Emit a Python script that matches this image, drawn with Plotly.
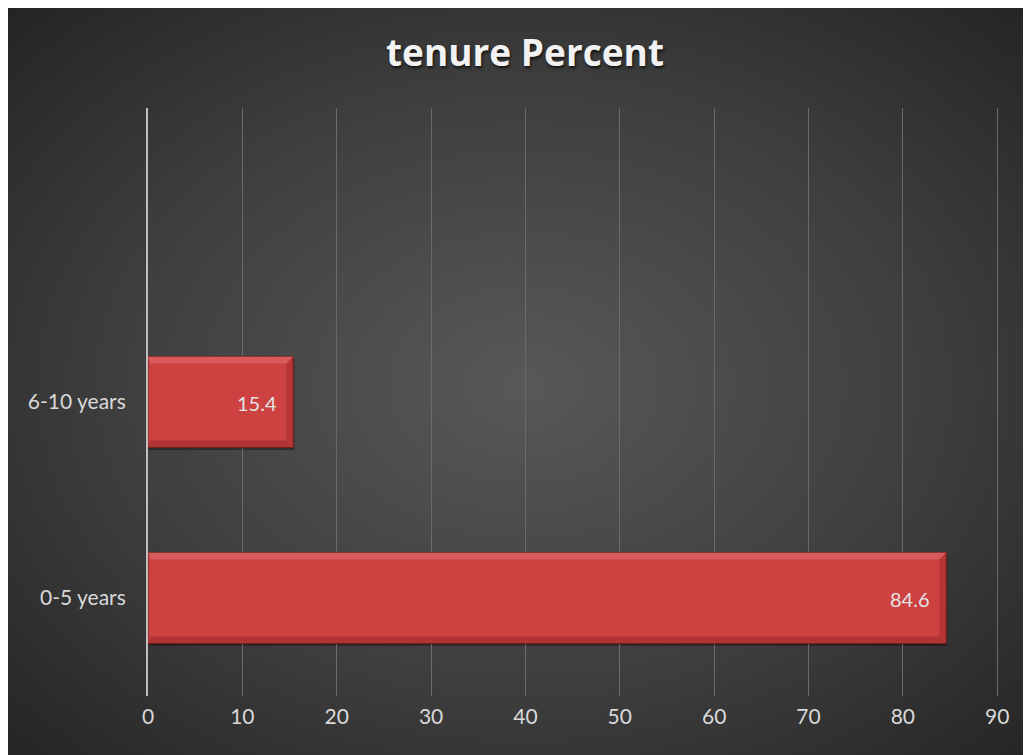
import base64
import plotly.graph_objects as go

categories = ["0-5 years", "6-10 years"]
values = [84.6, 15.4]
tick_vals = [0, 10, 20, 30, 40, 50, 60, 70, 80, 90]

W, H = 1031, 755
ML, MR, MT, MB = 140, 38, 100, 67
PW, PH = W - ML - MR, H - MT - MB
FONT = "Lato, Open Sans, sans-serif"

svg = """<svg xmlns='http://www.w3.org/2000/svg' width='1031' height='755' preserveAspectRatio='none'>
<defs><radialGradient id='g' cx='0.5' cy='0.5' r='0.72' fx='0.5' fy='0.5'>
<stop offset='0' stop-color='#585858'/><stop offset='0.55' stop-color='#3e3e3e'/><stop offset='1' stop-color='#232323'/>
</radialGradient></defs><rect width='1031' height='755' fill='url(#g)'/></svg>"""
bg_uri = "data:image/svg+xml;base64," + base64.b64encode(svg.encode()).decode()

fig = go.Figure()
fig.add_trace(go.Bar(
    y=[0, 1], x=values, orientation="h", width=0.465,
    marker=dict(color="#cd4141", line=dict(color="#7a2222", width=1)),
    textposition="none", hoverinfo="skip", showlegend=False,
))

# bevel shapes derived from data
half = 0.465 / 2
bx = 7 / (PW / 90.0)
by = 7 / (PH / 3.0)
shapes = []
for i, v in enumerate(values):
    y0, y1 = i - half, i + half
    shapes.append(dict(type="rect", xref="x", yref="y", x0=0.05, x1=v + 0.12, y0=y0 - 0.012, y1=y1 - 0.012,
                       fillcolor="rgba(0,0,0,0.35)", line=dict(width=0), layer="below"))
    shapes.append(dict(type="path", xref="x", yref="y",
                       path=f"M 0 {y1} L {v} {y1} L {v - bx} {y1 - by} L {bx * 0.3} {y1 - by} Z",
                       fillcolor="rgba(255,170,170,0.24)", line=dict(width=0)))
    shapes.append(dict(type="path", xref="x", yref="y",
                       path=f"M 0 {y0} L {v} {y0} L {v - bx} {y0 + by} L {bx * 0.3} {y0 + by} Z",
                       fillcolor="rgba(60,0,0,0.2)", line=dict(width=0)))
    shapes.append(dict(type="path", xref="x", yref="y",
                       path=f"M {v} {y0} L {v} {y1} L {v - bx} {y1 - by} L {v - bx} {y0 + by} Z",
                       fillcolor="rgba(60,0,0,0.16)", line=dict(width=0)))

annotations = [dict(x=v, y=i, xref="x", yref="y", text=f"{v}", showarrow=False,
                    xanchor="right", xshift=-14, yshift=-1,
                    font=dict(family=FONT, size=20, color="#e4e4e4"))
               for i, v in enumerate(values)]

fig.update_layout(
    width=W, height=H, autosize=False,
    margin=dict(l=ML, r=MR, t=MT, b=MB),
    paper_bgcolor="#2a2a2a", plot_bgcolor="rgba(0,0,0,0)",
    title=dict(text="<b>tenure Percent</b>", x=517 / W, xanchor="center", xref="container",
               y=1 - 45 / H, yanchor="middle", yref="container",
               font=dict(family="Open Sans, sans-serif", size=37, color="#f2f2f2",
                         shadow="1px 2px 3px rgba(0,0,0,0.7)")),
    images=[dict(source=bg_uri, xref="paper", yref="paper",
                 x=-ML / PW, y=(H - MB) / PH, sizex=W / PW, sizey=H / PH,
                 xanchor="left", yanchor="top", sizing="stretch", layer="below")],
    shapes=shapes,
    annotations=annotations,
)
fig.update_xaxes(range=[0, 90.4], tickvals=tick_vals, showgrid=True, gridcolor="#6a6a6a", gridwidth=1,
                 zeroline=False, showline=False, ticks="", ticklabelstandoff=6,
                 tickfont=dict(family=FONT, size=21, color="#d9d9d9"))
fig.update_yaxes(range=[-0.5, 2.5], tickvals=[0, 1], ticktext=categories, showgrid=False,
                 zeroline=False, showline=True, linecolor="#bdbdbd", linewidth=2, ticks="",
                 ticklabelstandoff=16,
                 tickfont=dict(family=FONT, size=21, color="#d9d9d9"))
fig.write_html("out.html")
